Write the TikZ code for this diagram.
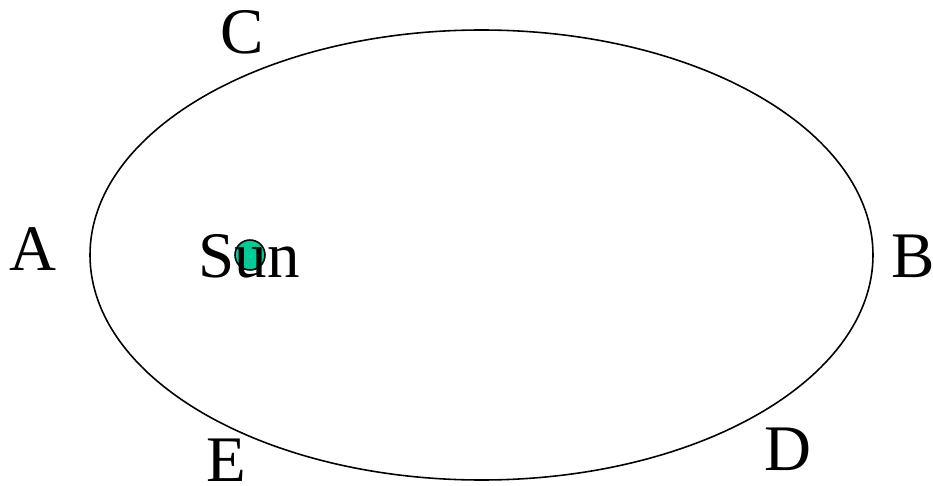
\documentclass[tikz,border=0pt]{standalone}
\usepackage{fontspec}
\setmainfont{Liberation Serif}
\usepackage{xcolor}
\usepackage{tikz}
\usetikzlibrary{positioning}

\definecolor{sungreen}{RGB}{0,204,153}

\begin{document}
\begin{tikzpicture}[
    x=0.02cm, y=-0.02cm,
    orbit/.style={draw=black, line width=0.9pt},
    point/.style={anchor=base, inner sep=0pt, font=\fontsize{37}{44}\selectfont},
    star/.style={circle, draw=black, fill=sungreen, line width=0.9pt, minimum size=0.6cm, inner sep=0pt}
]
    \useasboundingbox (0,0) rectangle (933,486);

    \coordinate (centre) at (481.5,255);
    \draw[orbit] (centre) ellipse [x radius=391.5, y radius=225];

    % sun in one focus
    \node[star] (sun) at (250,255) {};
    \node[point] (sunlabel) at (249,277) {Sun};

    \node[point] (C) at (242,54) {C};
    \node[point] (A) at (33,271) {A};
    \node[point] (B) at (913,277) {B};
    \node[point] (E) at (226,481) {E};
    \node[point] (D) at (788,470) {D};
\end{tikzpicture}
\end{document}
